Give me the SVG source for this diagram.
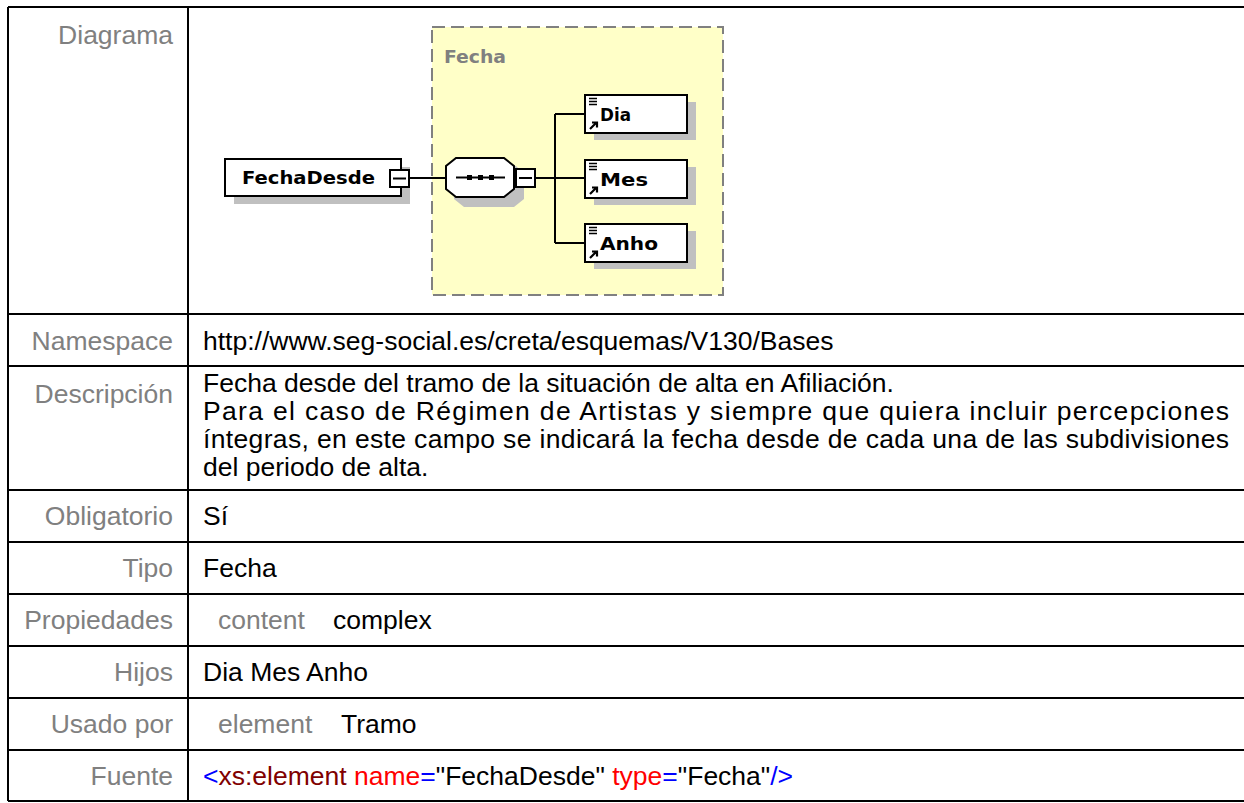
<svg xmlns="http://www.w3.org/2000/svg" width="1244" height="803" viewBox="0 0 1244 803">
<style>
.lbl{font-family:"Liberation Sans",Arial,sans-serif;font-size:26.5px;fill:#808080;text-anchor:end}
.val{font-family:"Liberation Sans",Arial,sans-serif;font-size:26.5px;fill:#000}
.gv{fill:#808080}
.grid{stroke:#000;stroke-width:2;fill:none}
.box{fill:#fff;stroke:#000;stroke-width:2}
.shadow{fill:#c0c0c0}
.dg{font-family:"DejaVu Sans",Verdana,sans-serif;font-weight:bold;font-size:18px;fill:#000}
.ln{stroke:#000;stroke-width:2;fill:none}
</style>
<defs>
<g id="icon">
<path d="M0 0.5h8M0 3.5h8M0 6.5h8" stroke="#000" stroke-width="1.5"/>
<path d="M1 31l6-6M3 24.5h5v5" stroke="#000" stroke-width="2.2" fill="none"/>
</g>
</defs>
<rect x="0" y="0" width="1244" height="803" fill="#fff"/>
<g id="table">
<path class="grid" d="M8 7H1250M8 314H1250M8 366H1250M8 490H1250M8 542H1250M8 594H1250M8 646H1250M8 698H1250M8 750H1250M8 801H1250M8 7V801M188 7V801"/>
</g>
<g id="labels">
<text class="lbl" x="173" y="44">Diagrama</text>
<text class="lbl" x="173" y="350">Namespace</text>
<text class="lbl" x="173" y="403">Descripción</text>
<text class="lbl" x="173" y="525">Obligatorio</text>
<text class="lbl" x="173" y="577">Tipo</text>
<text class="lbl" x="173" y="629">Propiedades</text>
<text class="lbl" x="173" y="681">Hijos</text>
<text class="lbl" x="173" y="733">Usado por</text>
<text class="lbl" x="173" y="785">Fuente</text>
</g>
<g id="values">
<text class="val" x="203" y="350">http://www.seg-social.es/creta/esquemas/V130/Bases</text>
<text class="val" x="203" y="392">Fecha desde del tramo de la situación de alta en Afiliación.</text>
<text class="val" x="203" y="420" textLength="1026" lengthAdjust="spacing">Para el caso de Régimen de Artistas y siempre que quiera incluir percepciones</text>
<text class="val" x="203" y="448" textLength="1026" lengthAdjust="spacing">íntegras, en este campo se indicará la fecha desde de cada una de las subdivisiones</text>
<text class="val" x="203" y="476">del periodo de alta.</text>
<text class="val" x="203" y="525">Sí</text>
<text class="val" x="203" y="577">Fecha</text>
<text class="val" x="218" y="629"><tspan class="gv">content</tspan><tspan x="333">complex</tspan></text>
<text class="val" x="203" y="681">Dia Mes Anho</text>
<text class="val" x="218" y="733"><tspan class="gv">element</tspan><tspan x="341">Tramo</tspan></text>
<text class="val" x="203" y="785"><tspan fill="#0000ff">&lt;</tspan><tspan fill="#800000">xs:element</tspan><tspan fill="#ff0000"> name</tspan><tspan fill="#0000ff">=</tspan>"FechaDesde"<tspan fill="#ff0000"> type</tspan><tspan fill="#0000ff">=</tspan>"Fecha"<tspan fill="#0000ff">/&gt;</tspan></text>
</g>
<g id="group-Fecha">
<rect x="432" y="27" width="291" height="268" fill="#ffffc8" stroke="#808080" stroke-width="2" stroke-dasharray="13 6"/>
<text x="444" y="63" font-family="DejaVu Sans, Verdana, sans-serif" font-weight="bold" font-size="18" fill="#808080" textLength="62" lengthAdjust="spacingAndGlyphs">Fecha</text>
</g>
<g id="connectors">
<path class="ln" d="M410 178H446M535 178H555M555 114V243M555 114H585M555 178H585M555 243H585"/>
</g>
<g id="node-FechaDesde">
<rect class="shadow" x="234" y="167" width="176" height="37"/>
<rect class="box" x="225" y="159" width="176" height="37"/>
<text class="dg" x="242" y="184" textLength="133" lengthAdjust="spacingAndGlyphs">FechaDesde</text>
<rect class="box" x="390" y="170" width="19" height="17"/>
<path class="ln" d="M393 178.5H406"/>
</g>
<g id="node-sequence">
<path class="shadow" d="M464 166H516L524 174V199L514 207H464L454 199V174Z"/>
<path class="box" d="M456 158H504L514 166V189L504 197H456L446 189V166Z"/>
<path class="ln" d="M456 177.5H505"/>
<rect x="467" y="175" width="5" height="5" fill="#000"/>
<rect x="478" y="175" width="5" height="5" fill="#000"/>
<rect x="489" y="175" width="5" height="5" fill="#000"/>
<rect class="box" x="516" y="169" width="19" height="18"/>
<path class="ln" d="M519 178H532"/>
</g>
<g id="node-Dia">
<rect class="shadow" x="594" y="102" width="102" height="38"/>
<rect class="box" x="585" y="95" width="102" height="38"/>
<use href="#icon" x="589" y="98"/>
<text class="dg" x="600" y="121" textLength="31" lengthAdjust="spacingAndGlyphs">Dia</text>
</g>
<g id="node-Mes">
<rect class="shadow" x="594" y="167" width="102" height="38"/>
<rect class="box" x="585" y="160" width="102" height="38"/>
<use href="#icon" x="589" y="163"/>
<text class="dg" x="600" y="186" textLength="48" lengthAdjust="spacingAndGlyphs">Mes</text>
</g>
<g id="node-Anho">
<rect class="shadow" x="594" y="231" width="102" height="38"/>
<rect class="box" x="585" y="224" width="102" height="38"/>
<use href="#icon" x="589" y="227"/>
<text class="dg" x="600" y="250" textLength="58" lengthAdjust="spacingAndGlyphs">Anho</text>
</g>
</svg>
